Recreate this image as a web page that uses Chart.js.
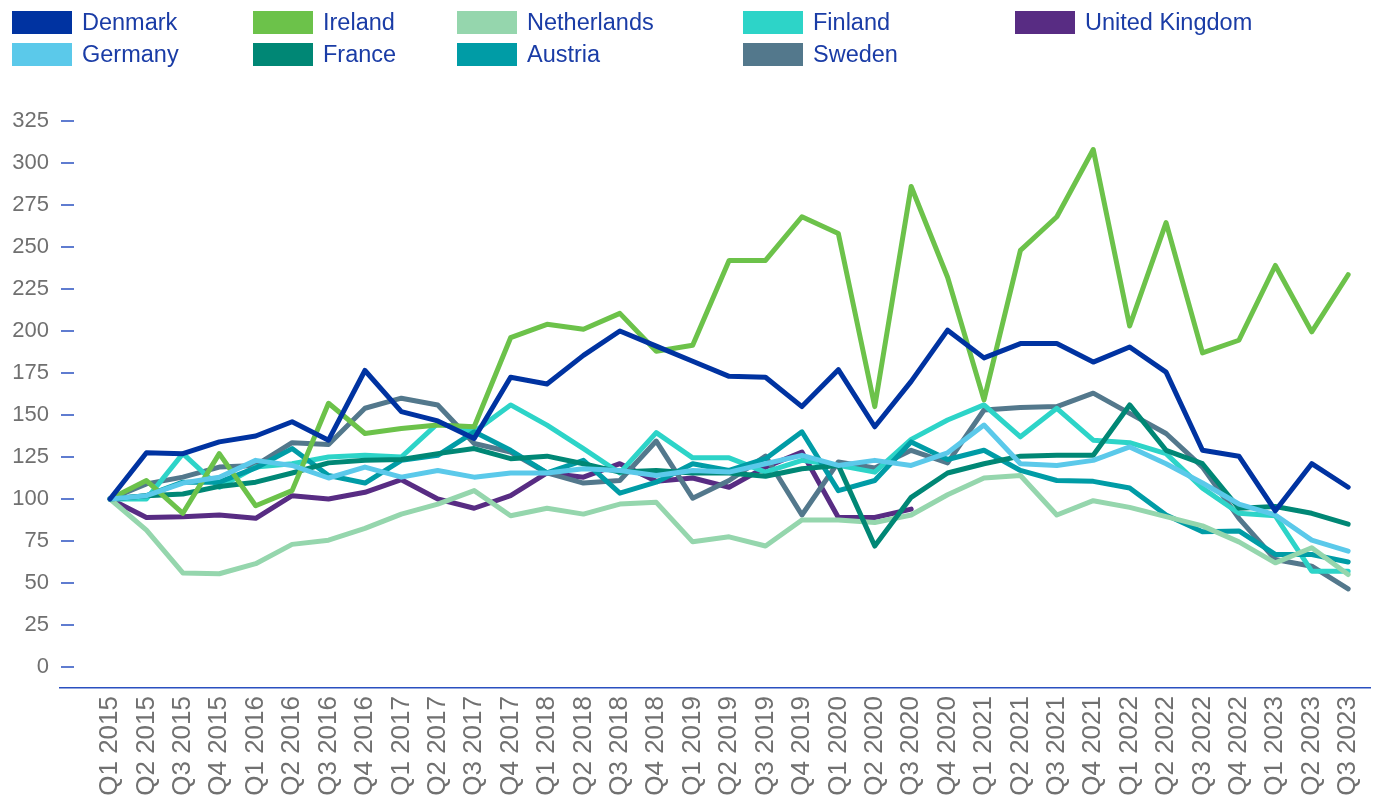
<!DOCTYPE html>
<html>
<head>
<meta charset="utf-8">
<script src="https://cdn.jsdelivr.net/npm/chart.js@4.4.1/dist/chart.umd.min.js"></script>
<style>
    html, body { margin: 0; padding: 0; background: #fff; }
    #wrap { position: relative; width: 1378px; height: 803px; overflow: hidden; }
    #legend {
        position: absolute; left: 12px; top: 11px;
        display: grid; grid-auto-flow: column;
        grid-template-rows: 23px 23px; row-gap: 9px;
        grid-template-columns: 241px 204px 286px 272px 300px;
        font-family: "Liberation Sans", Arial, sans-serif; font-size: 23.5px; color: #1a3ca6;
    }
    .item { display: flex; align-items: center; white-space: nowrap; }
    .swatch { width: 60px; height: 23px; margin-right: 10px; flex: none; }
    canvas { position: absolute; left: 0; top: 0; }
</style>
</head>
<body>
<div id="wrap">
    <canvas id="chart" width="1378" height="803"></canvas>
    <div id="legend"></div>
</div>
<script>
// ===================================
// DATA
// ===================================
const quarters = [
    'Q1 2015', 'Q2 2015', 'Q3 2015', 'Q4 2015',
    'Q1 2016', 'Q2 2016', 'Q3 2016', 'Q4 2016',
    'Q1 2017', 'Q2 2017', 'Q3 2017', 'Q4 2017',
    'Q1 2018', 'Q2 2018', 'Q3 2018', 'Q4 2018',
    'Q1 2019', 'Q2 2019', 'Q3 2019', 'Q4 2019',
    'Q1 2020', 'Q2 2020', 'Q3 2020', 'Q4 2020',
    'Q1 2021', 'Q2 2021', 'Q3 2021', 'Q4 2021',
    'Q1 2022', 'Q2 2022', 'Q3 2022', 'Q4 2022',
    'Q1 2023', 'Q2 2023', 'Q3 2023'
];

const yTicks = [0, 25, 50, 75, 100, 125, 150, 175, 200, 225, 250, 275, 300, 325];

const denmark = [100, 127.5, 127, 134, 137.5, 146, 135, 176.5, 152, 146.5, 136, 172.5, 168.5, 185.5, 200, 191, 182, 173, 172.5, 155, 177, 143, 170, 200.5, 184, 192.5, 192.5, 181.5, 190.5, 175.5, 129, 125.5, 93, 121, 107];
const germany = [100, 102, 109.5, 113, 123, 120, 112.5, 119, 113, 117, 113, 115.5, 115.5, 118, 117, 114, 117, 116, 121, 126, 120, 123, 120, 127.5, 144, 121, 120, 123, 131, 121, 109.5, 97, 90.5, 75.5, 69];
const ireland = [100, 111, 91.5, 127, 96, 105, 157, 139, 142, 144, 143, 196, 204, 201, 210.5, 188, 191.5, 242, 242, 268, 258, 155, 286, 232, 159, 248, 268, 308, 203, 264.5, 187, 194.5, 239, 199.5, 233.5];
const france = [100, 102, 103, 107.5, 110, 115.5, 121.5, 123, 123.5, 127, 130, 124, 125.5, 121, 116, 117, 115.5, 115.5, 113.5, 118, 120, 72, 101, 115.5, 121, 125.5, 126, 126, 156, 129, 121, 94.5, 95.5, 91.5, 85];
const netherlands = [100, 81.5, 56, 55.5, 61.5, 73, 75.5, 82.5, 91, 97, 105, 90, 94.5, 91, 97, 98, 74.5, 77.5, 72, 87.5, 87.5, 86, 90.5, 102.5, 112.5, 114, 90.5, 99, 95, 89.5, 84, 74.5, 62, 71, 55];
const austria = [100, 102, 110, 110, 118.5, 130, 114, 109.5, 123, 126, 140, 129, 115.5, 123, 103.5, 110, 121, 117, 124, 140, 105, 111, 134, 123.5, 129, 117, 111, 110.5, 106.5, 90.5, 80.5, 81, 67, 67, 62.5];
const finland = [100, 100, 127, 107, 119, 121, 125, 126, 125, 145, 140, 156, 144, 130, 115.5, 139.5, 124.5, 124.5, 116, 123, 120, 116, 135.5, 147, 156, 137, 154, 135, 133.5, 127, 106.5, 91.5, 90, 57, 57];
const sweden = [100, 109, 113, 119, 120, 133.5, 132.5, 154, 160, 156, 133, 128, 115.5, 109.5, 111, 134.5, 100.5, 111, 125.5, 90.5, 122, 118.5, 129, 121.5, 153, 154.5, 155, 163, 151, 139, 119, 88.5, 64, 60, 46.5];
const unitedKingdom = [100, 89, 89.5, 90.5, 88.5, 102, 100, 104, 111.5, 100, 94.5, 102, 115.5, 113, 121, 110.5, 112.5, 107, 119, 128, 89, 89, 94, null, null, null, null, null, null, null, null, null, null, null, null];

// legend is column-major: Denmark/Germany, Ireland/France, ...
const series = [
    { name: 'Denmark', values: denmark, color: '#0033a1' },
    { name: 'Germany', values: germany, color: '#5bc9ea' },
    { name: 'Ireland', values: ireland, color: '#6cc24a' },
    { name: 'France', values: france, color: '#008775' },
    { name: 'Netherlands', values: netherlands, color: '#95d6ad' },
    { name: 'Austria', values: austria, color: '#009ca6' },
    { name: 'Finland', values: finland, color: '#2dd4c8' },
    { name: 'Sweden', values: sweden, color: '#53788c' },
    { name: 'United Kingdom', values: unitedKingdom, color: '#582c83' }
];

const AXIS_BLUE = '#2a50c0';
const LABEL_GREY = '#707070';
const FONT = '"Liberation Sans", Arial, sans-serif';

// ===================================
// LEGEND (HTML)
// ===================================
function buildLegend() {
    const box = document.getElementById('legend');
    box.innerHTML = series.map(s =>
        `<div class="item"><span class="swatch" style="background:${s.color}"></span>${s.name}</div>`
    ).join('');
}

// small tick dashes to the right of the y labels
const yTickMarks = {
    id: 'yTickMarks',
    afterDraw(chart) {
        const { ctx, chartArea, scales } = chart;
        const y = scales.y;
        ctx.save();
        ctx.strokeStyle = AXIS_BLUE;
        ctx.lineWidth = 1.5;
        y.ticks.forEach(t => {
            const py = Math.round(y.getPixelForValue(t.value));
            ctx.beginPath();
            ctx.moveTo(chartArea.left + 1, py);
            ctx.lineTo(chartArea.left + 14, py);
            ctx.stroke();
        });
        ctx.restore();
    }
};

// ===================================
// CHART
// ===================================
function renderChart() {
    const ctx = document.getElementById('chart').getContext('2d');

    new Chart(ctx, {
        type: 'line',
        data: {
            datasets: series.map(s => ({
                label: s.name,
                data: s.values.map((v, i) => ({ x: i, y: v })),
                borderColor: s.color,
                backgroundColor: s.color,
                borderWidth: 5,
                pointRadius: 0,
                tension: 0,
                borderJoinStyle: 'round',
                borderCapStyle: 'round',
                fill: false
            }))
        },
        options: {
            responsive: false,
            animation: false,
            layout: { padding: { top: 121, right: 8, left: 0, bottom: 0 } },
            plugins: { legend: { display: false }, tooltip: { enabled: false } },
            scales: {
                x: {
                    type: 'linear',
                    min: -1.374,
                    max: 34.6,
                    afterBuildTicks: scale => { scale.ticks = quarters.map((q, i) => ({ value: i })); },
                    afterFit: scale => {
                        scale.height = 115;
                        scale.paddingLeft = 0;
                        scale.paddingRight = 0;
                    },
                    grid: { display: false, drawTicks: false },
                    border: { display: true, color: AXIS_BLUE, width: 1.5 },
                    ticks: {
                        autoSkip: false,
                        minRotation: 90,
                        maxRotation: 90,
                        padding: 8,
                        color: LABEL_GREY,
                        font: { family: FONT, size: 26 },
                        callback: (value, index) => quarters[index]
                    }
                },
                y: {
                    min: -12.5,
                    max: 325,
                    afterBuildTicks: scale => { scale.ticks = yTicks.map(v => ({ value: v })); },
                    afterFit: scale => {
                        scale.width = 60;
                        scale.paddingTop = 0;
                        scale.paddingBottom = 0;
                    },
                    grid: { display: false, drawTicks: false },
                    border: { display: false },
                    ticks: {
                        padding: 11,
                        color: LABEL_GREY,
                        font: { family: FONT, size: 22 }
                    }
                }
            }
        },
        plugins: [yTickMarks]
    });
}

buildLegend();
renderChart();
</script>
</body>
</html>
